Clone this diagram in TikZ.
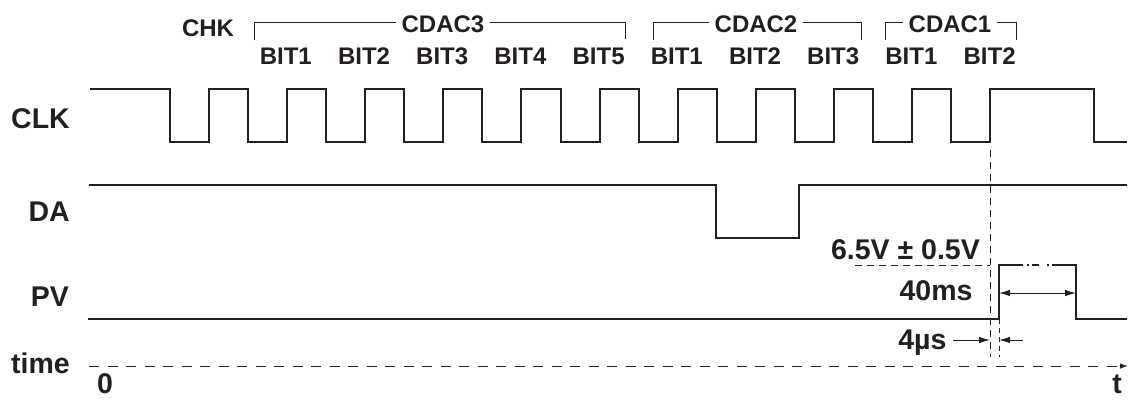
\documentclass[tikz,border=0pt]{standalone}
\usepackage{fontspec}
\setmainfont{Liberation Sans}
\usetikzlibrary{arrows.meta}
\definecolor{ink}{RGB}{35,31,32}
\begin{document}
\begin{tikzpicture}[x=1pt,y=-1pt,
  sig/.style={line width=2pt, draw=ink, line join=miter},
  brk/.style={line width=0.9pt, draw=ink},
  dsh/.style={line width=1pt, draw=ink, dash pattern=on 7pt off 5pt},
  dimarrow/.style={line width=1pt, draw=ink, -{Latex[length=11pt,width=6.5pt]}},
  lab/.style={font=\fontsize{28.5}{30}\selectfont\bfseries, text=ink, inner sep=0pt},
  toplab/.style={font=\fontsize{24}{26}\selectfont\bfseries, text=ink, inner sep=0pt},
  grp/.style={font=\fontsize{24}{26}\selectfont\bfseries, text=ink, inner ysep=0pt, inner xsep=5pt},
]
\path[use as bounding box] (0,0) rectangle (1129,400);

% ---------- left labels ----------
\node[lab, anchor=base east] (clk) at (70,128.3) {CLK};
\node[lab, anchor=base east] (da) at (70,221.7) {DA};
\node[lab, anchor=base east] (pv) at (69,306.7) {PV};
\node[lab, anchor=base east] (time) at (70,373.3) {time};
\node[lab, anchor=base] (zero) at (105,393.5) {0};
\node[lab, anchor=base] (tend) at (1117,393.5) {t};

% ---------- top labels ----------
\node[toplab, anchor=base] (chk) at (208,36.7) {CHK};
\foreach \x/\n [count=\i] in {287.3/BIT1, 365.5/BIT2, 443.7/BIT3, 521.9/BIT4, 600.1/BIT5,
                              678.3/BIT1, 756.5/BIT2, 834.7/BIT3, 912.9/BIT1, 991.1/BIT2}
  \node[toplab, anchor=base] (bit\i) at (\x-1.5,64) {\n};

% ---------- group brackets ----------
\node[grp, anchor=base] (c3) at (443,32) {CDAC3};
\node[grp, anchor=base] (c2) at (756,32) {CDAC2};
\node[grp, anchor=base] (c1) at (950,32) {CDAC1};
\coordinate (c3l) at (254.5,22); \coordinate (c3r) at (625,22);
\coordinate (c2l) at (653.6,22); \coordinate (c2r) at (861,22);
\coordinate (c1l) at (885.5,22); \coordinate (c1r) at (1016.5,22);
\draw[brk] ([yshift=-18pt]c3l) -- (c3l) -- (c3l -| c3.west);
\draw[brk] (c3r -| c3.east) -- (c3r) -- ([yshift=-17pt]c3r);
\draw[brk] ([yshift=-17.5pt]c2l) -- (c2l) -- (c2l -| c2.west);
\draw[brk] (c2r -| c2.east) -- (c2r) -- ([yshift=-17.5pt]c2r);
\draw[brk] ([yshift=-17.5pt]c1l) -- (c1l) -- (c1l -| c1.west);
\draw[brk] (c1r -| c1.east) -- (c1r) -- ([yshift=-17.5pt]c1r);

% ---------- CLK ----------
\draw[sig] (90,89) -- (170,89)
  \foreach \i in {1,...,10} { -- ++(0,53) -- ++(39.05,0) -- ++(0,-53) -- ++(39.05,0) }
  -- ++(0,53) -- ++(39.05,0) -- ++(0,-53) -- (1094,89) -- (1094,142) -- (1127,142);

% ---------- DA ----------
\draw[sig] (89,185) -- (716,185) -- (716,238) -- (799,238) -- (799,185) -- (1127,185);

% ---------- PV ----------
\draw[sig] (88,319) -- (999,319) -- (999,265) -- (1023,265);
\draw[sig] (1026.5,265) -- (1028.5,265);
\draw[sig] (1032,265) -- (1038.5,265);
\draw[sig] (1046.5,265) -- (1048.5,265);
\draw[sig] (1052,265) -- (1076,265) -- (1076,319) -- (1127,319);

% ---------- annotations ----------
\coordinate (vtop) at (990,150);
\coordinate (vbot) at (990,357);
\coordinate (ptop) at (999,319);
\coordinate (pbot) at (999,357);
\draw[dsh] (vtop) -- (vbot);
\draw[dsh, dash pattern=on 5pt off 4pt] (ptop) -- (pbot);
\node[lab, anchor=base east] (volt) at (980,259) {6.5V ± 0.5V};
\coordinate (vl) at (855,265);
\draw[dsh] (vl) -- (vl -| vtop);

\node[lab, anchor=base east] (ms) at (972.7,300) {40ms};
\coordinate (msl) at (999,293);
\coordinate (msr) at (1076,293);
\draw[dimarrow, {Latex[length=11pt,width=6.5pt]}-{Latex[length=11pt,width=6.5pt]}] (msl) -- (msr);

\node[lab, anchor=base east] (us) at (946.7,349.3) {4µs};
\coordinate (ual) at (953,340);
\coordinate (uar) at (1023,340);
\draw[dimarrow] (ual) -- (ual -| vtop);
\draw[dimarrow] (uar) -- (uar -| ptop);

% ---------- time axis ----------
\coordinate (t0) at (89,366);
\coordinate (t1) at (1128,366);
\draw[line width=1pt, draw=ink, dash pattern=on 10pt off 8.5pt, -{Latex[length=8pt,width=5.5pt]}] (t0) -- (t1);
\end{tikzpicture}
\end{document}
